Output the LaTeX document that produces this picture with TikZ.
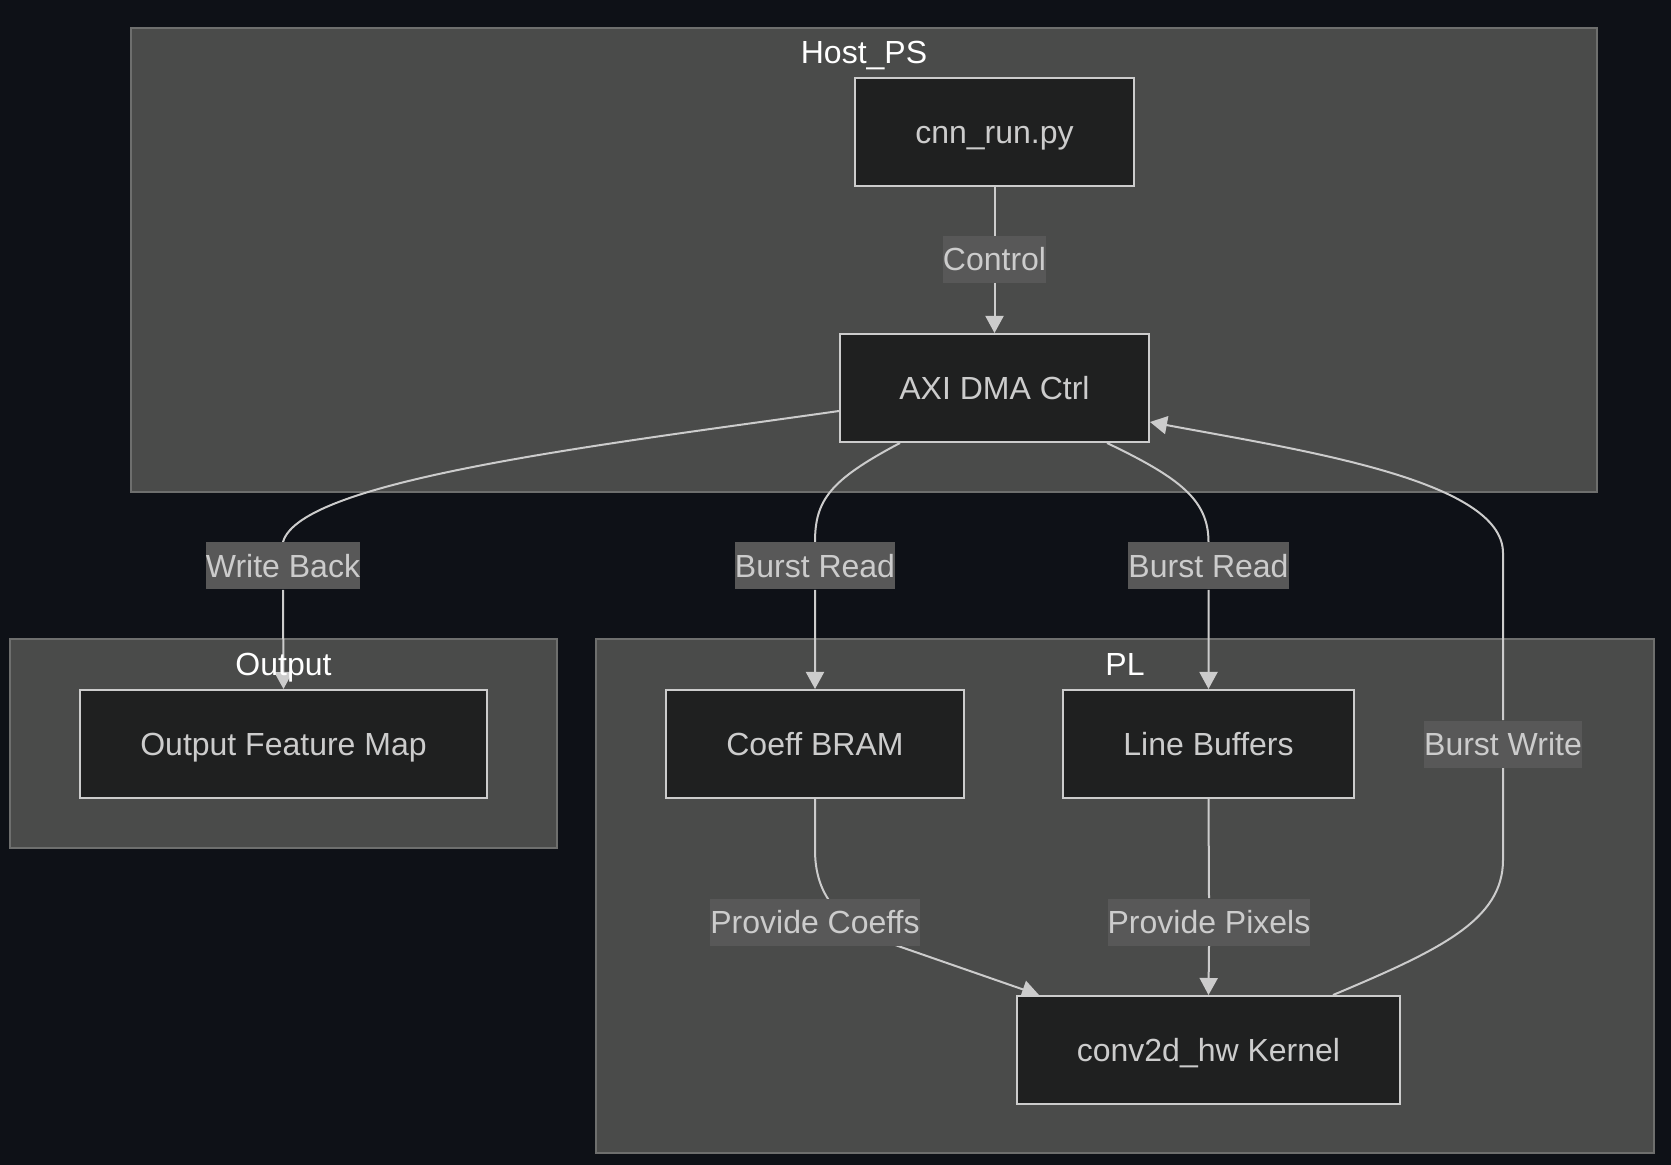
\documentclass[tikz,border=0pt]{standalone}
\usepackage{fontspec}
\setmainfont{Liberation Sans}
\usetikzlibrary{arrows.meta}
\definecolor{bgc}{HTML}{0E1117}
\definecolor{clfill}{HTML}{4A4B4A}
\definecolor{cldraw}{HTML}{6E6F6E}
\definecolor{nfill}{HTML}{1F2020}
\definecolor{ndraw}{HTML}{CCCCCC}
\definecolor{lfill}{HTML}{585858}
\definecolor{txt}{HTML}{CCCCCC}
\pgfdeclarelayer{canvas}
\pgfdeclarelayer{clusters}
\pgfdeclarelayer{edges}
\pgfsetlayers{canvas,clusters,edges,main}
\tikzset{
  box/.style={draw=ndraw, fill=nfill, line width=1pt, text=txt, minimum height=54pt, inner sep=0pt,
    text height=13.5pt, text depth=2pt, font=\fontsize{16pt}{19pt}\selectfont},
  elabel/.style={fill=lfill, text=txt, inner xsep=0pt, inner ysep=0pt, minimum height=23.5pt,
    text height=13.5pt, text depth=2pt, font=\fontsize{16pt}{19pt}\selectfont},
  cluster/.style={draw=cldraw, fill=clfill, line width=0.8pt},
  ctitle/.style={text=white, inner sep=0pt, text height=13.5pt, text depth=2pt,
    font=\fontsize{16pt}{19pt}\selectfont},
  conn/.style={draw=ndraw, line width=1pt, -{Triangle[length=8.5pt,width=9pt]}},
}
\begin{document}
\begin{tikzpicture}[x=0.5pt,y=-0.5pt]
\begin{pgfonlayer}{canvas}
\fill[bgc] (0,0) rectangle (1671,1165);
\end{pgfonlayer}
\useasboundingbox (0,0) rectangle (1671,1165);
\begin{pgfonlayer}{clusters}
\draw[cluster] (131,28) rectangle (1597,492);
\draw[cluster] (10,639) rectangle (557,848);
\draw[cluster] (596,639) rectangle (1654,1153);
\end{pgfonlayer}
\node[ctitle] (thost) at (864,52.5) {Host\_PS};
\node[ctitle] (tout) at (283.5,664) {Output};
\node[ctitle] (tpl) at (1125,664) {PL};
% nodes
\node[box, minimum width=139.5pt] (cnn) at (994.5,132) {cnn\_run.py};
\node[box, minimum width=154.5pt] (axi) at (994.5,388) {AXI DMA Ctrl};
\node[box, minimum width=203.5pt] (ofm) at (283.5,744) {Output Feature Map};
\node[box, minimum width=149pt] (cb) at (815,744) {Coeff BRAM};
\node[box, minimum width=145.5pt] (lb) at (1208.5,744) {Line Buffers};
\node[box, minimum width=191.5pt] (conv) at (1208.5,1050) {conv2d\_hw Kernel};
% edge labels
\node[elabel] (ctl) at (994.5,259.5) {Control};
\node[elabel] (wb) at (283,566) {Write Back};
\node[elabel] (br1) at (815,566) {Burst Read};
\node[elabel] (br2) at (1208.5,566) {Burst Read};
\node[elabel] (bw) at (1503,744) {Burst Write};
\node[elabel] (pc) at (815,922) {Provide Coeffs};
\node[elabel] (pp) at (1209,922) {Provide Pixels};
\coordinate (bwtop) at (1503,553);
\coordinate (bwlow) at (1503,860);
\coordinate (pcmid) at (815,850);
\coordinate (pcout) at (898,946);
% edges
\begin{pgfonlayer}{edges}
\draw[conn] (cnn.south) -- (ctl.north) (ctl.south) -- (axi.north);
\draw[conn] ([yshift=-11.5pt]axi.west) .. controls (600,445) and (300,480) .. (wb.north) (wb.south) -- (ofm.north);
\draw[conn] ([xshift=-47.25pt]axi.south) .. controls (830,480) and (815,500) .. (br1.north) (br1.south) -- (cb.north);
\draw[conn] ([xshift=56.25pt]axi.south) .. controls (1180,478) and (1208.5,500) .. (br2.north) (br2.south) -- (lb.north);
\draw[conn] (cb.south) -- (pcmid) .. controls (815,905) and (850,928) .. (pcout) -- ([xshift=11.5pt]conv.north west);
\draw[conn] (lb.south) -- (pp.north) (pp.south) -- (conv.north);
\draw[conn] ([xshift=62.25pt]conv.north) .. controls (1440,950) and (1503,920) .. (bwlow) -- (bw.south) (bw.north) -- (bwtop) .. controls (1503,480) and (1300,450) .. ([yshift=-17pt]axi.east);
\end{pgfonlayer}
\end{tikzpicture}
\end{document}
